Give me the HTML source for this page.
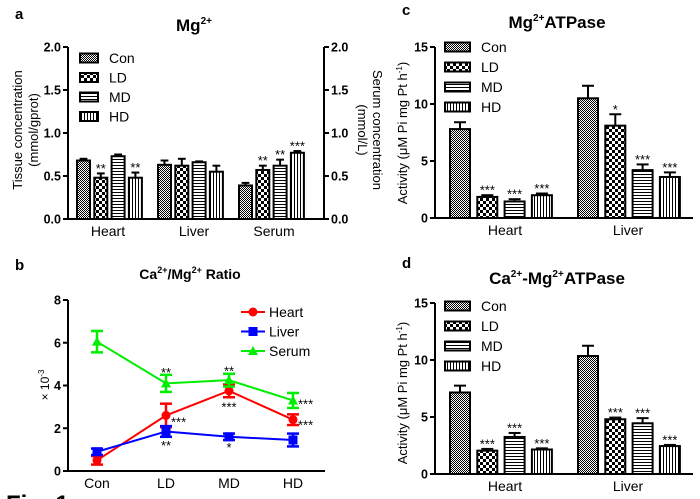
<!DOCTYPE html>
<html><head><meta charset="utf-8"><style>
body{margin:0;background:#fff}
svg{display:block;font-family:"Liberation Sans",Arial,sans-serif}
</style></head><body>
<svg id="fig" width="700" height="499" viewBox="0 0 700 499" xmlns="http://www.w3.org/2000/svg">
<defs>
<pattern id="pCon" width="2" height="2" patternUnits="userSpaceOnUse"><rect width="2" height="2" fill="#fff"/><rect width="1" height="1" fill="#000"/><rect x="1" y="1" width="1" height="1" fill="#000"/></pattern>
<pattern id="pLD" width="6" height="6" patternUnits="userSpaceOnUse"><rect width="6" height="6" fill="#fff"/><rect width="3" height="3" fill="#000"/><rect x="3" y="3" width="3" height="3" fill="#000"/></pattern>
<pattern id="pMD" width="3" height="3" patternUnits="userSpaceOnUse"><rect width="3" height="3" fill="#fff"/><rect width="3" height="1" fill="#000"/></pattern>
<pattern id="pHD" width="3" height="3" patternUnits="userSpaceOnUse"><rect width="3" height="3" fill="#fff"/><rect width="1" height="3" fill="#000"/></pattern>
</defs>
<g id="root"></g>
</svg>
<script>
// ---- Panel a data (Mg2+) ----
const aCategories = ["Heart","Liver","Serum"];
const aGroups = ["Con","LD","MD","HD"];
const aValues = [[0.68,0.48,0.73,0.48],[0.63,0.62,0.66,0.55],[0.39,0.57,0.62,0.77]];
const aErrors = [[0.02,0.05,0.02,0.06],[0.05,0.08,0.01,0.07],[0.03,0.05,0.07,0.02]];
const aStars = [["","**","","**"],["","","",""],["","**","**","***"]];
const aTicks = ["0.0","0.5","1.0","1.5","2.0"];
// ---- Panel c data (Mg2+ATPase) ----
const cCategories = ["Heart","Liver"];
const cValues = [[7.8,1.85,1.45,2.0],[10.5,8.1,4.2,3.6]];
const cErrors = [[0.6,0.15,0.2,0.15],[1.1,1.0,0.5,0.4]];
const cStars = [["","***","***","***"],["","*","***","***"]];
const cTicks = ["0","5","10","15"];
// ---- Panel d data (Ca2+-Mg2+ATPase) ----
const dValues = [[7.15,2.05,3.25,2.15],[10.35,4.8,4.45,2.45]];
const dErrors = [[0.6,0.15,0.35,0.1],[0.9,0.15,0.45,0.1]];
const dStars = [["","***","***","***"],["","***","***","***"]];
// ---- Panel b data (Ca2+/Mg2+ ratio) ----
const bCategories = ["Con","LD","MD","HD"];
const bSeriesNames = ["Heart","Liver","Serum"];
const bHeart = [0.5,2.6,3.75,2.4];
const bHeartErr = [0.2,0.55,0.3,0.25];
const bLiver = [0.9,1.85,1.6,1.45];
const bLiverErr = [0.15,0.25,0.15,0.3];
const bSerum = [6.05,4.1,4.25,3.3];
const bSerumErr = [0.5,0.4,0.3,0.35];
const bHeartStars = ["","***","***","***"];
const bLiverStars = ["","**","*",""];
const bSerumStars = ["","**","**","***"];
const bTicks = ["0","2","4","6","8"];

const NS="http://www.w3.org/2000/svg";
const root=document.getElementById('root');
function mk(tag,attrs,parent,text){const e=document.createElementNS(NS,tag);for(const k in attrs)e.setAttribute(k,attrs[k]);if(text!==undefined)e.textContent=text;(parent||root).appendChild(e);return e;}
function txt(x,y,s,size,parent,opts){opts=opts||{};const e=mk('text',{x:x,y:y,'font-size':size,'text-anchor':opts.anchor||'middle',fill:'#000'},parent);if(opts.bold)e.setAttribute('font-weight','bold');if(opts.rot)e.setAttribute('transform','rotate('+opts.rot+' '+x+' '+y+')');e.innerHTML=s;return e;}
const pats=["url(#pCon)","url(#pLD)","url(#pMD)","url(#pHD)"];

function barPanel(p){
  const g=mk('g',{});
  
  
  const y=v=>p.y0-(v/p.max)*(p.y0-p.y1);
  const ax=mk('g',{},g);
  
  
  mk('line',{x1:p.ax,y1:p.y1,x2:p.ax,y2:p.y0,stroke:'#000','stroke-width':2},ax);
  p.ticks.forEach(t=>{const yy=y(parseFloat(t));mk('line',{x1:p.ax-5,y1:yy,x2:p.ax,y2:yy,stroke:'#000','stroke-width':2},ax);txt(p.ax-7,yy+4.5,t,12.5,ax,{anchor:'end',bold:true});});
  if(p.rax){
    const rx=mk('g',{},g);
    
    
    mk('line',{x1:p.rax,y1:p.y1,x2:p.rax,y2:p.y0,stroke:'#000','stroke-width':2},rx);
    p.ticks.forEach(t=>{const yy=y(parseFloat(t));mk('line',{x1:p.rax,y1:yy,x2:p.rax+5,y2:yy,stroke:'#000','stroke-width':2},rx);txt(p.rax+7,yy+4.5,t,12.5,rx,{anchor:'start',bold:true});});
  }
  const xa=mk('line',{x1:p.ax,y1:p.y0,x2:p.xend,y2:p.y0,stroke:'#000','stroke-width':2},g);
  
  
  p.values.forEach((grp,ci)=>{
    grp.forEach((v,gi)=>{
      const x=p.starts[ci]+gi*p.step, top=y(v), et=y(v+p.errors[ci][gi]);
      mk('line',{x1:x+p.w/2,y1:top,x2:x+p.w/2,y2:et,stroke:'#000','stroke-width':2},g);
      mk('line',{x1:x+p.w/2-p.w*0.3,y1:et,x2:x+p.w/2+p.w*0.3,y2:et,stroke:'#000','stroke-width':2},g);
      const r=mk('rect',{x:x,y:top,width:p.w,height:p.y0-top,fill:pats[gi],stroke:'#000','stroke-width':2},g);
      
      
      const s=p.stars[ci][gi];
      if(s){const st=txt(x+p.w/2,et-0.5,s,13,g);}
    });
    const cl=txt(p.catX[ci],p.y0+17,p.cats[ci],14,g);
    
    
  });
  if(p.leg){
    const lg=mk('g',{},g);
    
    
    aGroups.forEach((n,i)=>{
      const ly=p.leg.y+i*p.leg.dy;
      mk('rect',{x:p.leg.x,y:ly-4.5,width:p.leg.w,height:9,fill:pats[i],stroke:'#000','stroke-width':2},lg);
      txt(p.leg.x+p.leg.w+11,ly+5,n,14,lg,{anchor:'start'});
    });
  }
  return y;
}

// Panel a
barPanel({name:'panel-a',ax:68,rax:324,xend:324,y0:219,y1:47,max:2,ticks:aTicks,values:aValues,errors:aErrors,stars:aStars,
  starts:[77,158,239],step:17.3,w:13,cats:aCategories,catX:[108,194,274],leg:{x:80,y:58,dy:19.5,w:18}});
txt(15,19,'a',15,root,{anchor:'start',bold:true});
txt(194,31,'Mg<tspan font-size="10" dy="-7">2+</tspan>',17,root,{bold:true});
txt(22,130,'Tissue concentration',13,root,{rot:-90});
txt(38,130,'(mmol/gprot)',13,root,{rot:-90});
txt(373,130,'Serum concentration',13,root,{rot:90});
txt(358,130,'(mmol/L)',13,root,{rot:90});

// Panel c
barPanel({name:'panel-c',ax:435,xend:693,y0:218,y1:47,max:15,ticks:cTicks,values:cValues,errors:cErrors,stars:cStars,
  starts:[450,578],step:27.3,w:20,cats:cCategories,catX:[505,628],leg:{x:445,y:47,dy:20,w:25}});
txt(402,15,'c',15,root,{anchor:'start',bold:true});
txt(557,28,'Mg<tspan font-size="10" dy="-7">2+</tspan><tspan dy="7">ATPase</tspan>',17,root,{bold:true});
txt(407,133,'Activity (μM Pi mg Pt h<tspan font-size="8" dy="-5">-1</tspan><tspan dy="5">)</tspan>',13,root,{rot:-90});

// Panel d
barPanel({name:'panel-d',ax:435,xend:693,y0:474,y1:303,max:15,ticks:cTicks,values:dValues,errors:dErrors,stars:dStars,
  starts:[450,578],step:27.3,w:20,cats:cCategories,catX:[505,628],leg:{x:445,y:306,dy:20,w:25}});
txt(402,268,'d',15,root,{anchor:'start',bold:true});
txt(557,284,'Ca<tspan font-size="10" dy="-7">2+</tspan><tspan dy="7">-Mg</tspan><tspan font-size="10" dy="-7">2+</tspan><tspan dy="7">ATPase</tspan>',17,root,{bold:true});
txt(407,393,'Activity (μM Pi mg Pt h<tspan font-size="8" dy="-5">-1</tspan><tspan dy="5">)</tspan>',13,root,{rot:-90});

// Panel b
(function(){
  const g=mk('g',{});
  
  
  const ax=68,y0=471,y1=300,max=8,xend=325,xs=[97,166,229,293];
  const y=v=>y0-(v/max)*(y0-y1);
  const xv=i=>xs[i];
  const yax=mk('g',{},g);
  
  
  mk('line',{x1:ax,y1:y1,x2:ax,y2:y0,stroke:'#000','stroke-width':2},yax);
  bTicks.forEach(t=>{const yy=y(parseFloat(t));mk('line',{x1:ax-5,y1:yy,x2:ax,y2:yy,stroke:'#000','stroke-width':2},yax);txt(ax-7,yy+4.5,t,12.5,yax,{anchor:'end',bold:true});});
  const xax=mk('g',{},g);
  
  
  mk('line',{x1:ax,y1:y0,x2:xend,y2:y0,stroke:'#000','stroke-width':2},xax);
  bCategories.forEach((c,i)=>txt(xv(i),y0+17,c,14,xax));
  const series=[[bHeart,bHeartErr,'#f00','circle',bHeartStars],[bLiver,bLiverErr,'#00f','square',bLiverStars],[bSerum,bSerumErr,'#0e0','tri',bSerumStars]];
  const starOff={Heart:[[0,0],[5,7],[0,18],[5,6]],Liver:[[0,0],[0,17],[0,16],[0,0]],Serum:[[0,0],[0,-6],[0,-6],[5,4]]};
  function marker(par,kind,x,yy,col){
    if(kind==='circle')return mk('circle',{cx:x,cy:yy,r:4.5,fill:col},par);
    if(kind==='square')return mk('rect',{x:x-4.5,y:yy-4.5,width:9,height:9,fill:col},par);
    return mk('polygon',{points:(x)+','+(yy-5)+' '+(x-5)+','+(yy+4)+' '+(x+5)+','+(yy+4),fill:col},par);
  }
  series.forEach((s,si)=>{
    const sg=mk('g',{},g);
    
    
    const [vals,errs,col,kind,stars]=s;
    mk('polyline',{points:vals.map((v,i)=>xv(i)+','+y(v)).join(' '),fill:'none',stroke:col,'stroke-width':2},sg);
    vals.forEach((v,i)=>{
      const x=xv(i),hi=y(v+errs[i]),lo=y(v-errs[i]);
      mk('line',{x1:x,y1:hi,x2:x,y2:lo,stroke:col,'stroke-width':2.5},sg);
      mk('line',{x1:x-6,y1:hi,x2:x+6,y2:hi,stroke:col,'stroke-width':2.5},sg);
      mk('line',{x1:x-6,y1:lo,x2:x+6,y2:lo,stroke:col,'stroke-width':2.5},sg);
      const m=marker(sg,kind,x,y(v),col);
      
      
      if(stars[i]){
        const o=starOff[bSeriesNames[si]][i];
        const by = o[1]<0 ? y(v+errs[i])+o[1]+8 : (o[0]? y(v)+o[1]+4 : y(v-errs[i])+o[1]-4);
        const st=txt(x+o[0],by,stars[i],13,sg,{anchor:o[0]?'start':'middle'});
        
        
      }
    });
  });
  const lg=mk('g',{},g);
  
  
  series.forEach((s,i)=>{
    const ly=312+i*19.5;
    mk('line',{x1:241,y1:ly,x2:265,y2:ly,stroke:s[2],'stroke-width':2},lg);
    marker(lg,s[3],253,ly,s[2]);
    txt(269,ly+5,bSeriesNames[i],14,lg,{anchor:'start'});
  });
})();
txt(15,270,'b',15,root,{anchor:'start',bold:true});
txt(190,279,'Ca<tspan font-size="9" dy="-6">2+</tspan><tspan dy="6">/Mg</tspan><tspan font-size="9" dy="-6">2+</tspan><tspan dy="6"> Ratio</tspan>',14,root,{bold:true});
txt(49,385,'× 10<tspan font-size="8" dy="-5">-3</tspan>',12,root,{rot:-90});
txt(6,512,'Fig. 1',24,root,{anchor:'start',bold:true});
</script>
</body></html>
